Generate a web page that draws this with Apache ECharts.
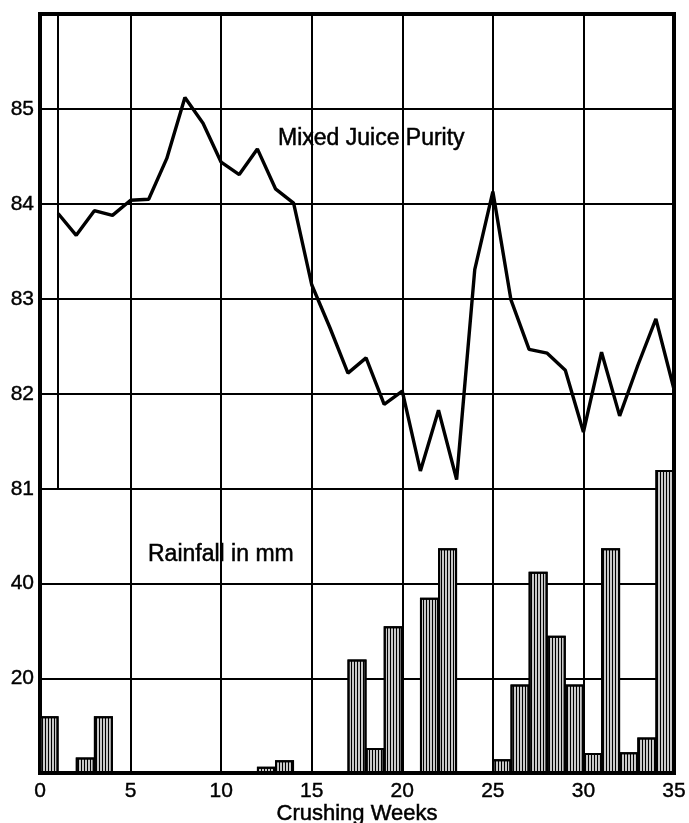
<!DOCTYPE html>
<html>
<head>
<meta charset="utf-8">
<script src="https://cdn.jsdelivr.net/npm/echarts@6/dist/echarts.min.js"></script>
<style>
html,body{margin:0;padding:0;background:#fff;}
#chart{width:689px;height:823px;}
</style>
</head>
<body>
<div id="chart"></div>
<script>
// ---- data ----
const purityWeeks = [1,2,3,4,5,6,7,8,9,10,11,12,13,14,15,16,17,18,19,20,21,22,23,24,25,26,27,28,29,30,31,32,33,34,35];
const purity = [83.9,83.67,83.93,83.88,84.04,84.05,84.48,85.12,84.85,84.44,84.31,84.58,84.16,84.01,83.15,82.7,82.22,82.38,81.89,82.03,81.19,81.83,81.1,83.31,84.13,82.99,82.47,82.43,82.25,81.6,82.44,81.77,82.3,82.79,82.05];
const rainWeeks = [0,1,2,3,4,5,6,7,8,9,10,11,12,13,14,15,16,17,18,19,20,21,22,23,24,25,26,27,28,29,30,31,32,33,34];
const rainfall = [12,0,3.3,12,0,0,0,0,0,0,0,0,1.3,2.7,0,0,0,24,5.3,31,0,37,47.5,0,0,2.9,18.7,42.5,29,18.7,4.2,47.5,4.4,7.5,64];
const xTicks = [0,5,10,15,20,25,30,35];
const purityTicks = [81,82,83,84,85];
const rainTicks = [20,40];
const labels = {purity:'Mixed Juice Purity', rain:'Rainfall in mm', x:'Crushing Weeks'};

const FONT = '"Liberation Sans", Arial, Helvetica, sans-serif';
const chart = echarts.init(document.getElementById('chart'), null, {renderer:'canvas'});

const purityData = purityWeeks.map((w,i)=>[w, purity[i]]);
const rainData = rainWeeks.map((w,i)=>[w+0.5, rainfall[i]]).filter(d=>d[1]>0);

const txt = (size)=>({fontFamily:FONT, fontSize:size, fontWeight:'normal', color:'#000',
  textBorderColor:'#000', textBorderWidth:0.5});

const option = {
  backgroundColor:'#fff',
  animation:false,
  title:[
    {text:labels.purity, left:278, top:127, padding:0, textStyle:txt(23)},
    {text:labels.rain, left:148, top:543, padding:0, textStyle:txt(23)}
  ],
  grid:[
    {left:40, width:634, top:14, height:475, show:false, outerBoundsMode:'none', containLabel:false},
    {left:40, width:634, top:489, height:284, show:false, outerBoundsMode:'none', containLabel:false},
    {left:40, width:634, top:14, height:759, show:true, borderColor:'#000', borderWidth:4,
     backgroundColor:'transparent', outerBoundsMode:'none', containLabel:false}
  ],
  xAxis:[
    {type:'value', gridIndex:0, min:0, max:35, interval:5,
     axisLine:{show:false}, axisTick:{show:false}, axisLabel:{show:false},
     splitLine:{show:true, lineStyle:{color:'#000', width:2}}},
    {type:'value', gridIndex:1, min:0, max:35, interval:5,
     axisLine:{show:true, lineStyle:{color:'#000', width:3}}, axisTick:{show:false},
     axisLabel:{show:true, color:'#000', fontFamily:FONT, fontSize:21, margin:8,
       textBorderColor:'#000', textBorderWidth:0.4,
       formatter:v=> xTicks.includes(v) ? String(v) : ''},
     splitLine:{show:true, lineStyle:{color:'#000', width:2}},
     name:labels.x, nameLocation:'middle', nameGap:25,
     nameTextStyle:txt(22)},
    {type:'value', gridIndex:2, min:0, max:1, show:false}
  ],
  yAxis:[
    {type:'value', gridIndex:0, min:81, max:86, interval:1,
     axisLine:{show:false}, axisTick:{show:false},
     axisLabel:{color:'#000', fontFamily:FONT, fontSize:21, margin:6,
       textBorderColor:'#000', textBorderWidth:0.4,
       formatter:v=> purityTicks.includes(v) ? String(v) : ''},
     splitLine:{show:true, lineStyle:{color:'#000', width:2}}},
    {type:'value', gridIndex:1, min:0, max:60, interval:20,
     axisLine:{show:false}, axisTick:{show:false},
     axisLabel:{color:'#000', fontFamily:FONT, fontSize:21, margin:6,
       textBorderColor:'#000', textBorderWidth:0.4,
       formatter:v=> rainTicks.includes(v) ? String(v) : ''},
     splitLine:{show:true, lineStyle:{color:'#000', width:2}}},
    {type:'value', gridIndex:2, min:0, max:1, show:false}
  ],
  series:[
    {type:'line', xAxisIndex:0, yAxisIndex:0, data:purityData,
     showSymbol:false, symbol:'none',
     lineStyle:{color:'#000', width:3.4}, z:5,
     markLine:{silent:true, symbol:'none', label:{show:false},
       lineStyle:{color:'#000', width:2, type:'solid'},
       data:[{xAxis:purityWeeks[0]}]}},
    {type:'bar', xAxisIndex:1, yAxisIndex:1, data:rainData,
     barWidth:19, clip:false, z:4,
     itemStyle:{color:'#c8c8c8', borderColor:'#000', borderWidth:2,
       decal:{symbol:'rect', symbolSize:1, dashArrayX:[1,1.6], dashArrayY:[4,0], color:'#000', rotation:0}}}
  ]
};
chart.setOption(option);
</script>
</body>
</html>
